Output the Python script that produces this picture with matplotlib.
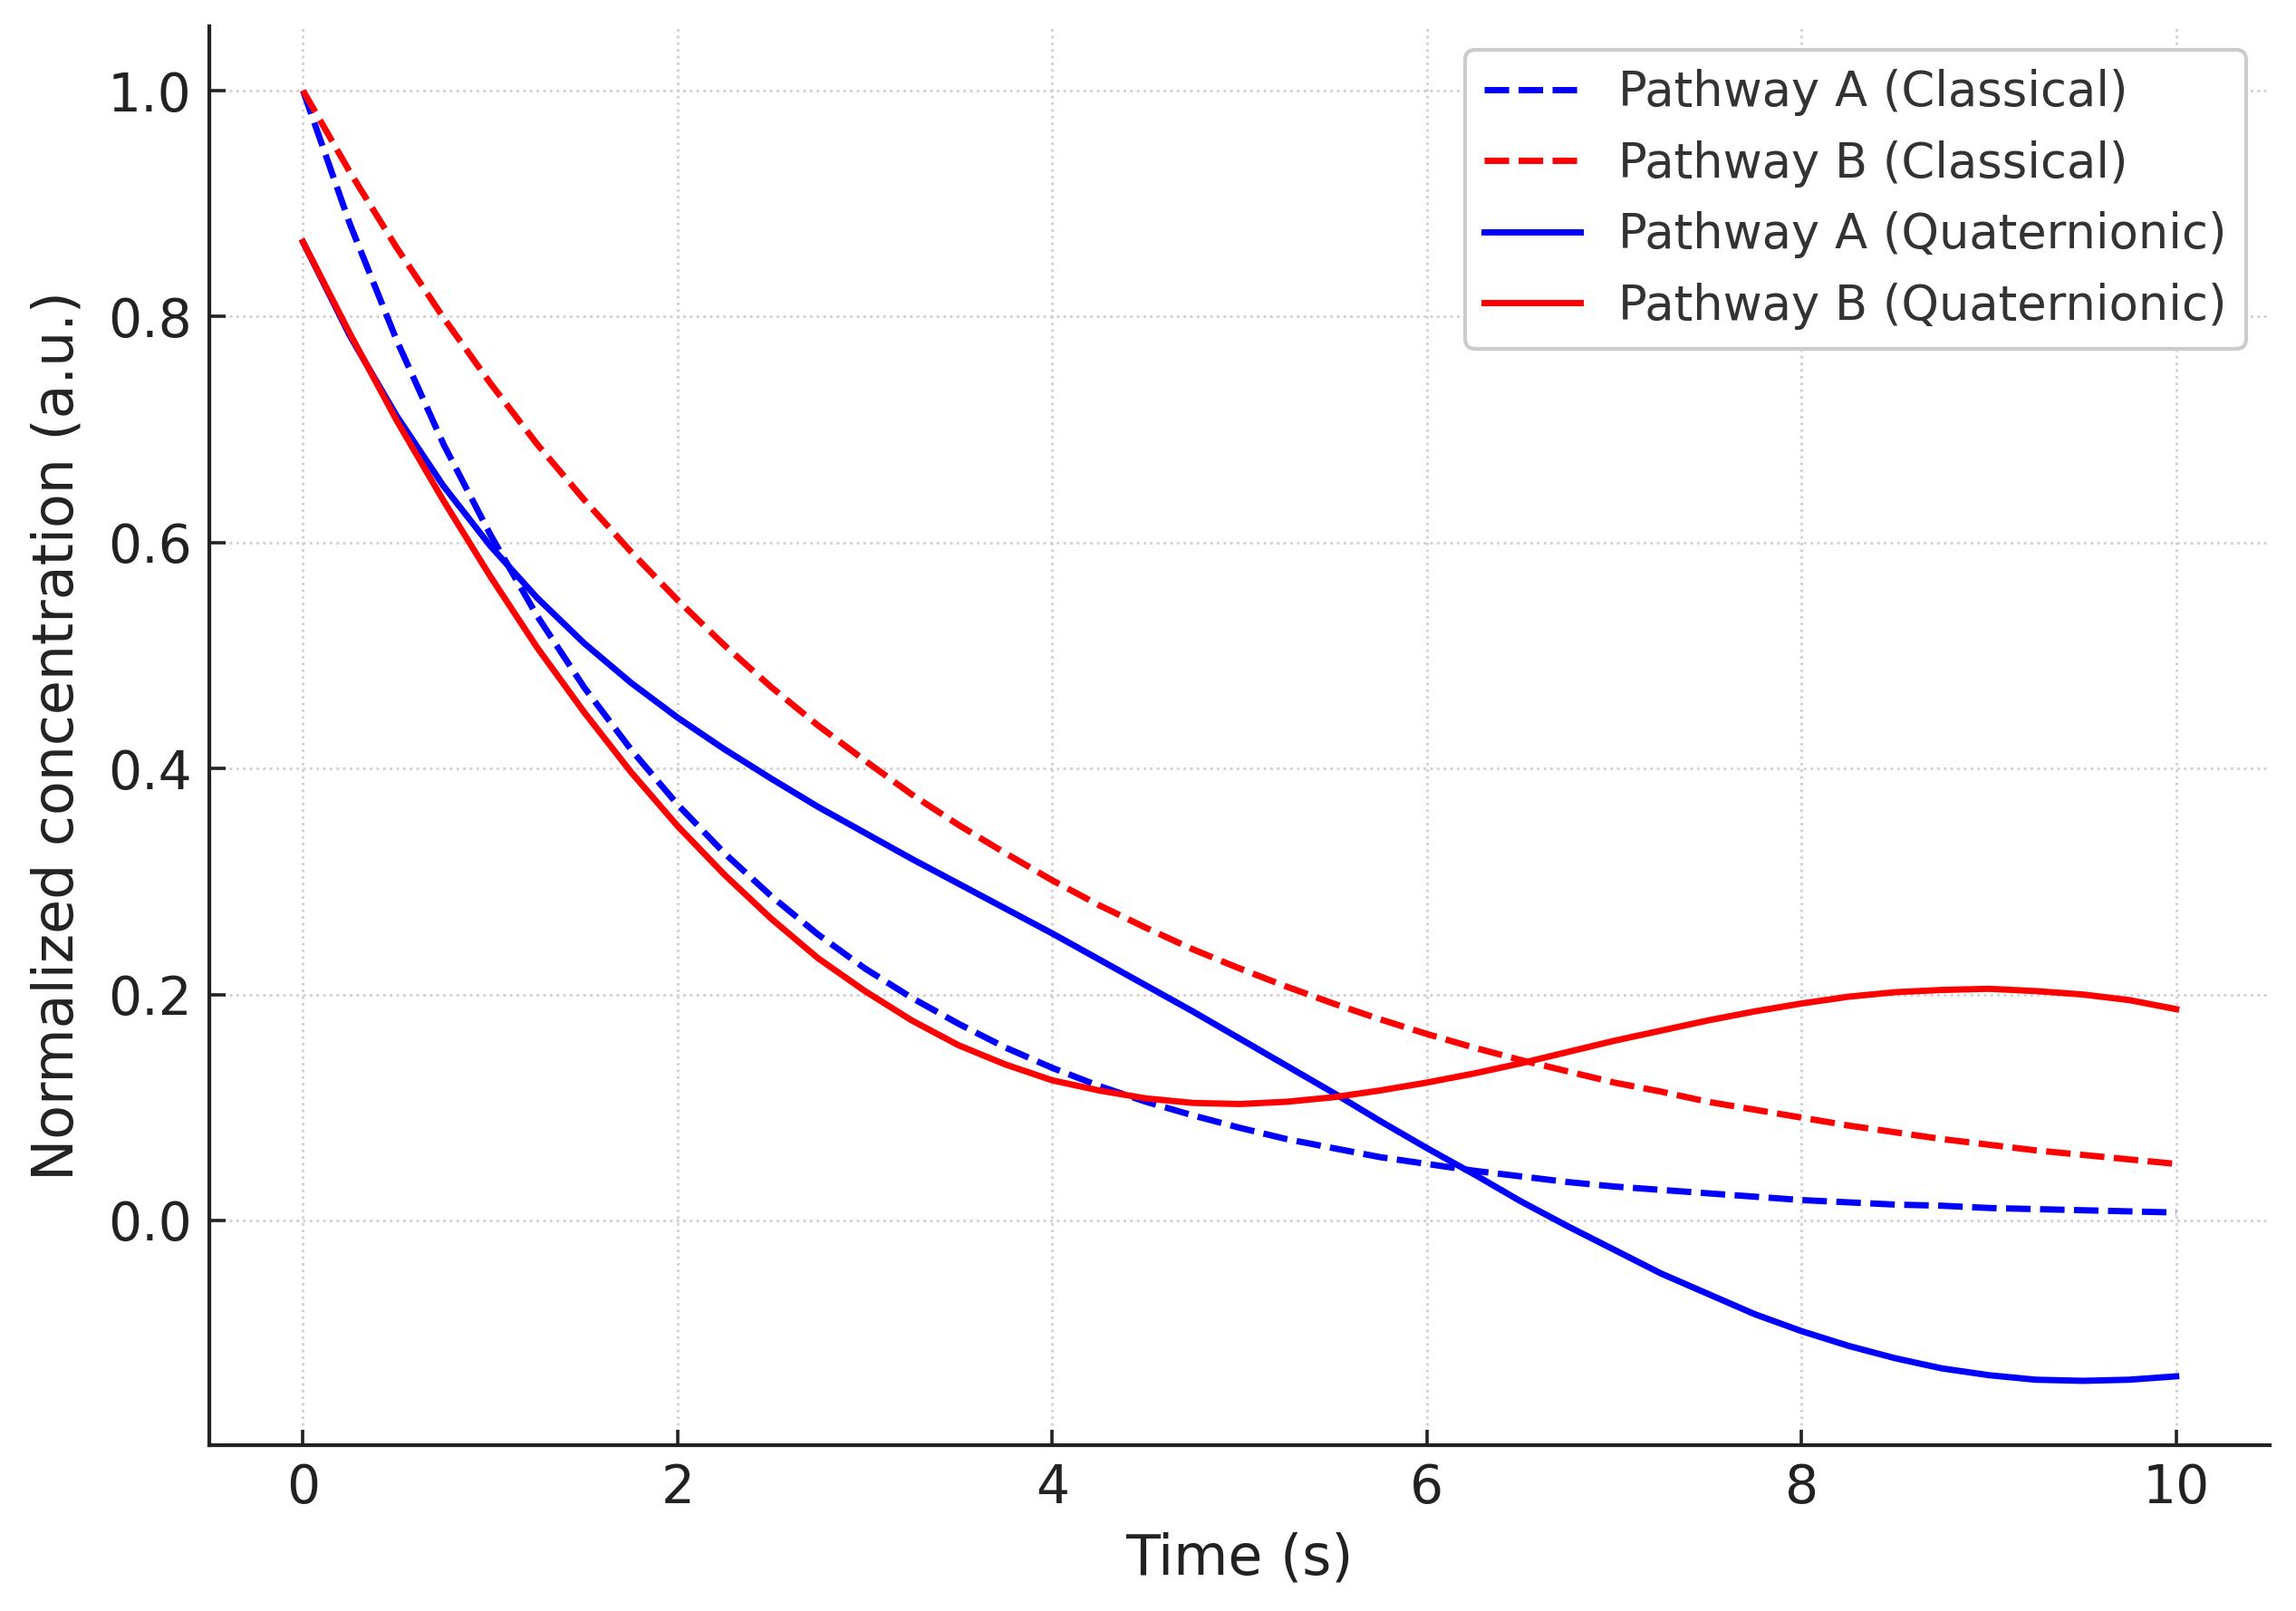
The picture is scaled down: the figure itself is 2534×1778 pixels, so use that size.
import numpy as np
import matplotlib
matplotlib.use("Agg")
import matplotlib.pyplot as plt

# time axis (s)
t = np.linspace(0, 10, 41)

# values, step 0.25 s
a_classical = [1.000, 0.882, 0.779, 0.687, 0.607, 0.535, 0.472, 0.417, 0.368, 0.325,
               0.287, 0.253, 0.223, 0.197, 0.174, 0.153, 0.135, 0.119, 0.105, 0.093,
               0.082, 0.072, 0.064, 0.056, 0.050, 0.044, 0.039, 0.034, 0.030, 0.027,
               0.024, 0.021, 0.018, 0.016, 0.014, 0.013, 0.011, 0.010, 0.009, 0.008,
               0.007]
b_classical = [1.000, 0.928, 0.861, 0.799, 0.741, 0.687, 0.638, 0.592, 0.549, 0.509,
               0.472, 0.438, 0.407, 0.377, 0.350, 0.325, 0.301, 0.279, 0.259, 0.240,
               0.223, 0.207, 0.192, 0.178, 0.165, 0.153, 0.142, 0.132, 0.122, 0.114,
               0.105, 0.098, 0.091, 0.084, 0.078, 0.072, 0.067, 0.062, 0.058, 0.054,
               0.050]
a_quat = [0.866, 0.783, 0.712, 0.650, 0.597, 0.551, 0.511, 0.476, 0.445, 0.417,
          0.391, 0.366, 0.343, 0.320, 0.298, 0.276, 0.254, 0.231, 0.208, 0.185,
          0.161, 0.137, 0.113, 0.088, 0.064, 0.041, 0.017, -0.005, -0.026, -0.047,
          -0.065, -0.083, -0.098, -0.111, -0.122, -0.131, -0.137, -0.141, -0.142, -0.141,
          -0.138]
b_quat = [0.866, 0.785, 0.708, 0.637, 0.570, 0.507, 0.450, 0.397, 0.349, 0.306,
          0.267, 0.232, 0.203, 0.177, 0.155, 0.138, 0.124, 0.115, 0.108, 0.104,
          0.103, 0.105, 0.109, 0.115, 0.122, 0.130, 0.139, 0.149, 0.159, 0.168,
          0.177, 0.185, 0.192, 0.198, 0.202, 0.204, 0.205, 0.203, 0.200, 0.195,
          0.187]

labels = ["Pathway A (Classical)", "Pathway B (Classical)",
          "Pathway A (Quaternionic)", "Pathway B (Quaternionic)"]

txt = "#222222"
plt.rcParams["font.family"] = "DejaVu Sans"

fig = plt.figure(figsize=(2534 / 200, 1778 / 200), dpi=200)
ax = fig.add_axes([0.0912, 0.1029, 0.8974, 0.8808])

lw = 2.5
ax.plot(t, a_classical, color="blue", lw=lw, ls="--", dashes=(3.9, 1.5), label=labels[0])
ax.plot(t, b_classical, color="red", lw=lw, ls="--", dashes=(3.9, 1.5), label=labels[1])
ax.plot(t, a_quat, color="blue", lw=lw, label=labels[2])
ax.plot(t, b_quat, color="red", lw=lw, label=labels[3])

ax.set_xlim(-0.5, 10.5)
ax.set_ylim(-0.199, 1.057)
ax.set_xticks([0, 2, 4, 6, 8, 10])
ax.set_yticks([0.0, 0.2, 0.4, 0.6, 0.8, 1.0])

ax.grid(True, ls=":", color="#cfcfcf", lw=1.0)
ax.set_axisbelow(True)
for s in ["top", "right"]:
    ax.spines[s].set_visible(False)
for s in ["left", "bottom"]:
    ax.spines[s].set_linewidth(1.5)
    ax.spines[s].set_color(txt)

ax.tick_params(direction="in", length=6.3, width=1.3, pad=7,
               labelsize=21, colors=txt)

ax.set_xlabel("Time (s)", fontsize=22.3, color=txt, labelpad=7)
ax.set_ylabel("Normalized concentration (a.u.)", fontsize=22.3, color=txt, labelpad=9)

leg = ax.legend(loc="upper right", fontsize=19, framealpha=1.0,
                edgecolor="#cccccc", fancybox=True)
leg.get_frame().set_linewidth(1.5)
for tx in leg.get_texts():
    tx.set_color("#333333")

fig.savefig("out.png", dpi=200)
